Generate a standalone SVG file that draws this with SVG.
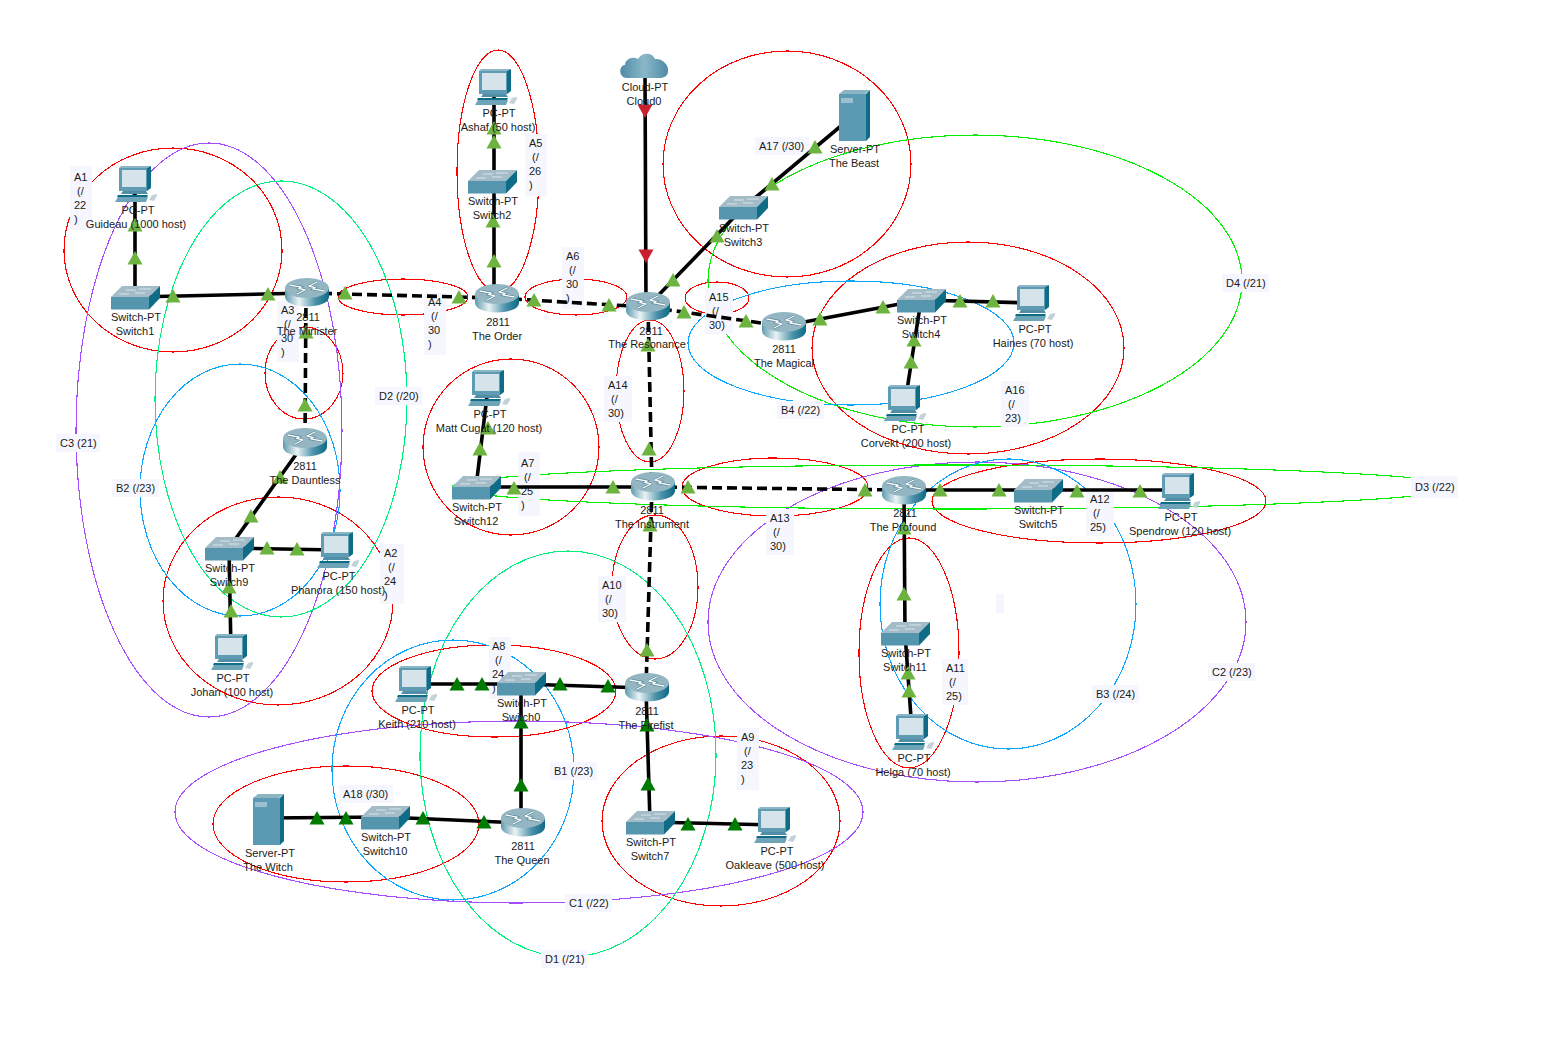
<svg xmlns="http://www.w3.org/2000/svg" width="1547" height="1057" viewBox="0 0 1547 1057">
<style>
text{font-family:"Liberation Sans",Arial,sans-serif;font-size:11px;fill:#1a1a1a}
.m{text-anchor:middle}
.r,.p,.gn,.gs,.gb{fill:none;stroke-width:1.1;shape-rendering:crispEdges}
.r{stroke:#f00}.p{stroke:#a64dff}.gn{stroke:#00f080}.gs{stroke:#00f000}.gb{stroke:#0aa5ff}
.bx{fill:#f6f7fe}
.c{stroke:#000;stroke-width:3.6;fill:none}
.d{stroke-dasharray:10 5}
.tl{fill:#6db33f}.td{fill:#007a00}.tr{fill:#c9202f}
</style>
<defs>
<linearGradient id="rg" x1="0" x2="1" y1="0" y2="0"><stop offset="0" stop-color="#5f9bae"/><stop offset=".32" stop-color="#eaf3f5"/><stop offset=".7" stop-color="#4a90a8"/><stop offset="1" stop-color="#0d6a85"/></linearGradient>
<linearGradient id="cg" x1="0" x2="1" y1="0" y2="0"><stop offset="0" stop-color="#4f8ba6"/><stop offset=".5" stop-color="#8ab8c8"/><stop offset="1" stop-color="#4f8aa6"/></linearGradient>
<g id="router">
<path d="M0 10V19A22 9.500 0 0 0 44 19V10Z" fill="url(#rg)"/>
<ellipse cx="22" cy="10" rx="22" ry="10" fill="#94b6c3"/>
<path d="M5 7l11 2-2 1.500 6 1.500M39 13l-11-2 2-1.500-6-1.500M12 16l8-4M32 4l-8 4" fill="none" stroke="#124f63" stroke-width="2.4" opacity=".55"/>
<path d="M5 7l11 2-2 1.500 6 1.500M39 13l-11-2 2-1.500-6-1.500M12 16l8-4M32 4l-8 4" fill="none" stroke="#fff" stroke-width="1.300"/>
</g>
<g id="switch">
<polygon points="11,0 49,0 38,11 0,11" fill="#a3bcc7"/>
<rect x="0" y="11" width="38" height="12.500" fill="#5595ad"/>
<polygon points="38,11 49,0 49,12 38,23.500" fill="#0f6c87"/>
<path d="M15 4h10M28 3h12M8 8h10M24 7h10" stroke="#e8f0f2" stroke-width=".8"/>
</g>
<g id="pc">
<polygon points="3,-1 5,-3 35,-3 31,-1" fill="#8cb6c6"/>
<rect x="3" y="-1" width="28" height="23" fill="#5f9cb3"/>
<polygon points="31,-1 35,-3 35,19 31,22" fill="#0f6c87"/>
<rect x="6" y="1" width="24" height="17" fill="#d4e4ea"/>
<polygon points="7,22 30,22 32,25 5,25" fill="#4f8ea6"/>
<polygon points="2,26 32,26 31,28 1,28" fill="#0f6c87"/>
<polygon points="2,28 32,28 30,33 -1,33" fill="#6ea4b8"/>
<path d="M33 31l3-5 5-1 0 2-3 5z" fill="#c3d2d8"/>
</g>
<g id="server">
<polygon points="0,4 5,0 31,0 26,4" fill="#8cb4c2"/>
<rect x="0" y="4" width="27" height="47" fill="#5a9ab3"/>
<polygon points="27,4 31,0 31,47 27,51" fill="#0f6c87"/>
<rect x="2" y="8" width="12" height="5" fill="#9cc0cf"/>
</g>
<g id="cloud">
<path d="M8 25C0 25-1 13 6 12C6 6 14 3 19 6C23-1 33-1 36 6C43 5 50 12 49 18C49 24 44 25 40 25Z" fill="url(#cg)"/>
</g>
<polygon id="t" points="0,-7 7.500,6.500 -7.500,6.500"/>
<polygon id="tdn" points="-7.500,-6.500 7.500,-6.500 0,7"/>
</defs>
<rect width="1547" height="1057" fill="#fff"/>

<g id="zones">
<ellipse class="r" cx="173" cy="250" rx="109" ry="102"/>
<ellipse class="r" cx="278" cy="601" rx="115" ry="104"/>
<ellipse class="r" cx="304" cy="373" rx="39" ry="46"/>
<ellipse class="r" cx="403" cy="297" rx="65" ry="18"/>
<ellipse class="r" cx="498" cy="171" rx="41" ry="121"/>
<ellipse class="r" cx="576" cy="297" rx="51" ry="18"/>
<ellipse class="r" cx="511" cy="447" rx="88" ry="88"/>
<ellipse class="r" cx="494" cy="691" rx="122" ry="46"/>
<ellipse class="r" cx="721" cy="821" rx="119" ry="85"/>
<ellipse class="r" cx="655" cy="587" rx="43" ry="72"/>
<ellipse class="r" cx="909" cy="653" rx="50" ry="115"/>
<ellipse class="r" cx="1099" cy="501" rx="167" ry="42"/>
<ellipse class="r" cx="775" cy="487" rx="93" ry="29"/>
<ellipse class="r" cx="650" cy="391" rx="34" ry="71"/>
<ellipse class="r" cx="717" cy="298" rx="32" ry="16"/>
<ellipse class="r" cx="968" cy="348" rx="156" ry="106"/>
<ellipse class="r" cx="787" cy="164" rx="124" ry="113"/>
<ellipse class="r" cx="346" cy="824" rx="133" ry="58"/>
<ellipse class="p" cx="209" cy="430" rx="133" ry="287"/>
<ellipse class="p" cx="519" cy="812" rx="344" ry="91"/>
<ellipse class="p" cx="977" cy="622" rx="269" ry="160"/>
<ellipse class="gn" cx="281" cy="399" rx="126" ry="218"/>
<ellipse class="gn" cx="568" cy="754" rx="148" ry="203"/>
<ellipse class="gs" cx="955" cy="487" rx="503" ry="22"/>
<ellipse class="gs" cx="975" cy="281" rx="267" ry="146"/>
<ellipse class="gb" cx="240" cy="490" rx="100" ry="126"/>
<ellipse class="gb" cx="453" cy="770" rx="121" ry="130"/>
<ellipse class="gb" cx="1008" cy="604" rx="128" ry="145"/>
<ellipse class="gb" cx="851" cy="343" rx="163" ry="62"/>
</g>

<g id="zone-labels">
<rect class="bx" x="70" y="166" width="22" height="64"/><text x="74" y="181">A1</text><text x="77" y="195">(/</text><text x="74" y="209">22</text><text x="74" y="223">)</text>
<rect class="bx" x="380" y="544" width="24" height="60"/><text x="384" y="557">A2</text><text x="388" y="571">(/</text><text x="384" y="585">24</text><text x="384" y="599">)</text>
<rect class="bx" x="277" y="301" width="22" height="61"/><text x="281" y="314">A3</text><text x="284" y="328">(/</text><text x="281" y="342">30</text><text x="281" y="356">)</text>
<rect class="bx" x="424" y="293" width="22" height="62"/><text x="428" y="306">A4</text><text x="431" y="320">(/</text><text x="428" y="334">30</text><text x="428" y="348">)</text>
<rect class="bx" x="525" y="134" width="22" height="62"/><text x="529" y="147">A5</text><text x="532" y="161">(/</text><text x="529" y="175">26</text><text x="529" y="189">)</text>
<rect class="bx" x="562" y="247" width="22" height="62"/><text x="566" y="260">A6</text><text x="569" y="274">(/</text><text x="566" y="288">30</text><text x="566" y="302">)</text>
<rect class="bx" x="518" y="452" width="22" height="64"/><text x="521" y="467">A7</text><text x="524" y="481">(/</text><text x="521" y="495">25</text><text x="521" y="509">)</text>
<rect class="bx" x="489" y="637" width="22" height="62"/><text x="492" y="650">A8</text><text x="495" y="664">(/</text><text x="492" y="678">24</text><text x="492" y="692">)</text>
<rect class="bx" x="737" y="728" width="22" height="62"/><text x="741" y="741">A9</text><text x="744" y="755">(/</text><text x="741" y="769">23</text><text x="741" y="783">)</text>
<rect class="bx" x="598" y="576" width="28" height="46"/><text x="602" y="589">A10</text><text x="605" y="603">(/</text><text x="602" y="617">30)</text>
<rect class="bx" x="942" y="659" width="26" height="46"/><text x="946" y="672">A11</text><text x="949" y="686">(/</text><text x="946" y="700">25)</text>
<rect class="bx" x="1086" y="490" width="28" height="46"/><text x="1090" y="503">A12</text><text x="1093" y="517">(/</text><text x="1090" y="531">25)</text>
<rect class="bx" x="766" y="509" width="28" height="46"/><text x="770" y="522">A13</text><text x="773" y="536">(/</text><text x="770" y="550">30)</text>
<rect class="bx" x="604" y="376" width="28" height="46"/><text x="608" y="389">A14</text><text x="611" y="403">(/</text><text x="608" y="417">30)</text>
<rect class="bx" x="705" y="288" width="28" height="46"/><text x="709" y="301">A15</text><text x="712" y="315">(/</text><text x="709" y="329">30)</text>
<rect class="bx" x="1001" y="381" width="28" height="46"/><text x="1005" y="394">A16</text><text x="1008" y="408">(/</text><text x="1005" y="422">23)</text>
<rect class="bx" x="755" y="137" width="54" height="18"/><text x="759" y="150">A17 (/30)</text>
<rect class="bx" x="339" y="785" width="54" height="18"/><text x="343" y="798">A18 (/30)</text>
<rect class="bx" x="550" y="762" width="47" height="18"/><text x="554" y="775">B1 (/23)</text>
<rect class="bx" x="112" y="479" width="47" height="18"/><text x="116" y="492">B2 (/23)</text>
<rect class="bx" x="1092" y="685" width="47" height="18"/><text x="1096" y="698">B3 (/24)</text>
<rect class="bx" x="777" y="401" width="47" height="18"/><text x="781" y="414">B4 (/22)</text>
<rect class="bx" x="565" y="894" width="47" height="18"/><text x="569" y="907">C1 (/22)</text>
<rect class="bx" x="1208" y="663" width="47" height="18"/><text x="1212" y="676">C2 (/23)</text>
<rect class="bx" x="56" y="434" width="44" height="18"/><text x="60" y="447">C3 (21)</text>
<rect class="bx" x="541" y="950" width="47" height="18"/><text x="545" y="963">D1 (/21)</text>
<rect class="bx" x="375" y="387" width="47" height="18"/><text x="379" y="400">D2 (/20)</text>
<rect class="bx" x="1411" y="476" width="47" height="22"/><text x="1415" y="491">D3 (/22)</text>
<rect class="bx" x="1222" y="274" width="47" height="18"/><text x="1226" y="287">D4 (/21)</text>
<rect class="bx" x="996" y="594" width="8" height="19"/>
</g>

<g id="connectors">
<path class="c" d="M135 184V297M135 297L307 293M494 87V181M494 181V298M645 70L646 307M647 307L743 208M743 208L854 115M783 326L921 300M921 300L1033 303M921 300L905 403M476 487H652M476 487L488 388M904 490H1038M1038 490H1178M904 490L905 633M905 633L912 732M305 442L229 548M229 548L337 550M229 548L231 652M415 684H521M521 684L646 688M521 684V823M646 688L650 822M650 822L775 825M522 823L385 817M385 817L268 818"/>
<path class="c d" d="M307 293L497 298M497 298L647 307M647 307L783 326M306 293L305 442M648 307L652 487M652 487L904 490M652 487L646 688"/>
</g>
<g id="flow-markers">
<g class="tl">
<use href="#t" x="135" y="258"/><use href="#t" x="135" y="225"/><use href="#t" x="173" y="296"/><use href="#t" x="268" y="294"/><use href="#t" x="345" y="293"/><use href="#t" x="459" y="297"/><use href="#t" x="494" y="261"/><use href="#t" x="493" y="221"/><use href="#t" x="494" y="142"/><use href="#t" x="494" y="128"/><use href="#t" x="534" y="300"/><use href="#t" x="609" y="305"/><use href="#t" x="673" y="280"/><use href="#t" x="717" y="236"/><use href="#t" x="772" y="184"/><use href="#t" x="815" y="147"/><use href="#t" x="684" y="312"/><use href="#t" x="746" y="321"/><use href="#t" x="820" y="319"/><use href="#t" x="883" y="307"/><use href="#t" x="960" y="301"/><use href="#t" x="993" y="301"/><use href="#t" x="914" y="340"/><use href="#t" x="911" y="362"/><use href="#t" x="648" y="345"/><use href="#t" x="649" y="449"/><use href="#t" x="306" y="332"/><use href="#t" x="305" y="405"/><use href="#t" x="280" y="477"/><use href="#t" x="251" y="516"/><use href="#t" x="267" y="548"/><use href="#t" x="297" y="549"/><use href="#t" x="229" y="587"/><use href="#t" x="231" y="611"/><use href="#t" x="514" y="488"/><use href="#t" x="613" y="487"/><use href="#t" x="480" y="449"/><use href="#t" x="488" y="428"/><use href="#t" x="688" y="487"/><use href="#t" x="865" y="490"/><use href="#t" x="940" y="490"/><use href="#t" x="999" y="490"/><use href="#t" x="1077" y="491"/><use href="#t" x="1140" y="491"/><use href="#t" x="904" y="594"/><use href="#t" x="904" y="528"/><use href="#t" x="909" y="691"/><use href="#t" x="908" y="673"/><use href="#t" x="650" y="525"/><use href="#t" x="647" y="650"/>
</g>
<g class="td">
<use href="#t" x="608" y="686"/><use href="#t" x="560" y="684"/><use href="#t" x="482" y="684"/><use href="#t" x="457" y="684"/><use href="#t" x="521" y="722"/><use href="#t" x="521" y="785"/><use href="#t" x="647" y="725"/><use href="#t" x="648" y="784"/><use href="#t" x="688" y="824"/><use href="#t" x="735" y="824"/><use href="#t" x="484" y="822"/><use href="#t" x="423" y="818"/><use href="#t" x="346" y="818"/><use href="#t" x="317" y="818"/>
</g>
<g class="tr"><use href="#tdn" x="645" y="111"/><use href="#tdn" x="646" y="256"/></g>
</g>

<g id="minister"><use href="#router" x="285" y="278"/><text class="m" x="308" y="321">2811</text><text class="m" x="307" y="335">The Minister</text></g>
<g id="order"><use href="#router" x="475" y="284"/><text class="m" x="498" y="326">2811</text><text class="m" x="497" y="340">The Order</text></g>
<g id="resonance"><use href="#router" x="626" y="292"/><text class="m" x="651" y="335">2811</text><text class="m" x="647" y="348">The Resonance</text></g>
<g id="magical"><use href="#router" x="762" y="312"/><text class="m" x="784" y="353">2811</text><text class="m" x="784" y="367">The Magical</text></g>
<g id="dauntless"><use href="#router" x="283" y="428"/><text class="m" x="305" y="470">2811</text><text class="m" x="305" y="484">The Dauntless</text></g>
<g id="instrument"><use href="#router" x="631" y="472"/><text class="m" x="652" y="514">2811</text><text class="m" x="652" y="528">The Instrument</text></g>
<g id="profound"><use href="#router" x="882" y="476"/><text class="m" x="905" y="517">2811</text><text class="m" x="903" y="531">The Profound</text></g>
<g id="firefist"><use href="#router" x="625" y="673"/><text class="m" x="647" y="715">2811</text><text class="m" x="646" y="729">The Firefist</text></g>
<g id="queen"><use href="#router" x="501" y="808"/><text class="m" x="523" y="850">2811</text><text class="m" x="522" y="864">The Queen</text></g>

<g id="switch1"><use href="#switch" x="111" y="286"/><text class="m" x="136" y="321">Switch-PT</text><text class="m" x="135" y="335">Switch1</text></g>
<g id="switch2"><use href="#switch" x="468" y="170"/><text class="m" x="493" y="205">Switch-PT</text><text class="m" x="492" y="219">Switch2</text></g>
<g id="switch3"><use href="#switch" x="719" y="196"/><text class="m" x="744" y="232">Switch-PT</text><text class="m" x="743" y="246">Switch3</text></g>
<g id="switch4"><use href="#switch" x="897" y="289"/><text class="m" x="922" y="324">Switch-PT</text><text class="m" x="921" y="338">Switch4</text></g>
<g id="switch5"><use href="#switch" x="1014" y="479"/><text class="m" x="1039" y="514">Switch-PT</text><text class="m" x="1038" y="528">Switch5</text></g>
<g id="switch12"><use href="#switch" x="452" y="476"/><text class="m" x="477" y="511">Switch-PT</text><text class="m" x="476" y="525">Switch12</text></g>
<g id="switch9"><use href="#switch" x="205" y="537"/><text class="m" x="230" y="572">Switch-PT</text><text class="m" x="229" y="586">Switch9</text></g>
<g id="switch11"><use href="#switch" x="881" y="622"/><text class="m" x="906" y="657">Switch-PT</text><text class="m" x="905" y="671">Switch11</text></g>
<g id="switch0"><use href="#switch" x="497" y="672"/><text class="m" x="522" y="707">Switch-PT</text><text class="m" x="521" y="721">Switch0</text></g>
<g id="switch10"><use href="#switch" x="361" y="806"/><text class="m" x="386" y="841">Switch-PT</text><text class="m" x="385" y="855">Switch10</text></g>
<g id="switch7"><use href="#switch" x="626" y="811"/><text class="m" x="651" y="846">Switch-PT</text><text class="m" x="650" y="860">Switch7</text></g>

<g id="guideau"><use href="#pc" x="116" y="169"/><text class="m" x="138" y="214">PC-PT</text><text class="m" x="136" y="228">Guideau (1000 host)</text></g>
<g id="ashaf"><use href="#pc" x="476" y="72"/><text class="m" x="499" y="117">PC-PT</text><text class="m" x="498" y="131">Ashaf (50 host)</text></g>
<g id="haines"><use href="#pc" x="1014" y="288"/><text class="m" x="1035" y="333">PC-PT</text><text class="m" x="1033" y="347">Haines (70 host)</text></g>
<g id="corvekt"><use href="#pc" x="885" y="388"/><text class="m" x="908" y="433">PC-PT</text><text class="m" x="906" y="447">Corvekt (200 host)</text></g>
<g id="matt"><use href="#pc" x="469" y="373"/><text class="m" x="490" y="418">PC-PT</text><text class="m" x="489" y="432">Matt Cugat (120 host)</text></g>
<g id="spendrow"><use href="#pc" x="1159" y="476"/><text class="m" x="1181" y="521">PC-PT</text><text class="m" x="1180" y="535">Spendrow (120 host)</text></g>
<g id="phanora"><use href="#pc" x="318" y="535"/><text class="m" x="339" y="580">PC-PT</text><text class="m" x="338" y="594">Phanora (150 host)</text></g>
<g id="johan"><use href="#pc" x="212" y="637"/><text class="m" x="233" y="682">PC-PT</text><text class="m" x="232" y="696">Johan (100 host)</text></g>
<g id="keith"><use href="#pc" x="396" y="669"/><text class="m" x="418" y="714">PC-PT</text><text class="m" x="417" y="728">Keith (210 host)</text></g>
<g id="helga"><use href="#pc" x="893" y="717"/><text class="m" x="914" y="762">PC-PT</text><text class="m" x="913" y="776">Helga (70 host)</text></g>
<g id="oakleave"><use href="#pc" x="755" y="810"/><text class="m" x="777" y="855">PC-PT</text><text class="m" x="775" y="869">Oakleave (500 host)</text></g>

<g id="beast"><use href="#server" x="839" y="90"/><text class="m" x="855" y="153">Server-PT</text><text class="m" x="854" y="167">The Beast</text></g>
<g id="witch"><use href="#server" x="253" y="794"/><text class="m" x="270" y="857">Server-PT</text><text class="m" x="268" y="871">The Witch</text></g>
<g id="cloud0"><use href="#cloud" x="619" y="53"/><text class="m" x="645" y="91">Cloud-PT</text><text class="m" x="644" y="105">Cloud0</text></g>
</svg>
